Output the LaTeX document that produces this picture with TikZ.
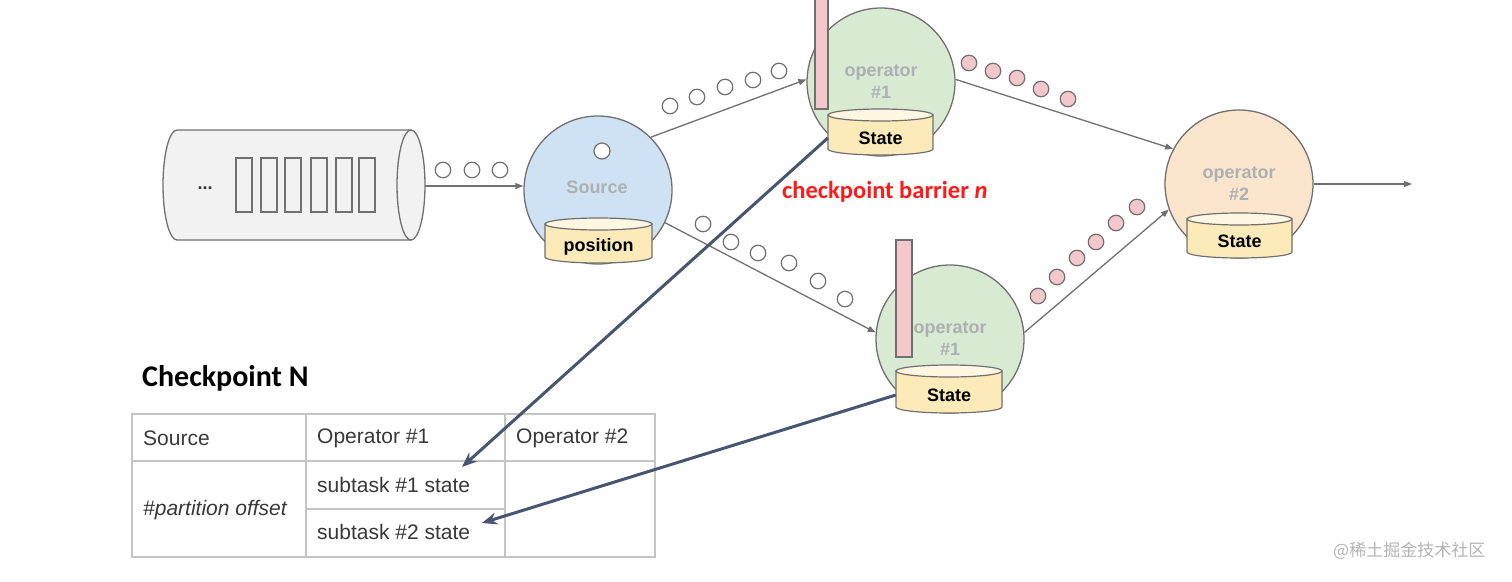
\documentclass[tikz,border=0pt]{standalone}
\usepackage{fontspec}
\setmainfont{Liberation Sans}
\newfontfamily\calib{Carlito}
\newfontfamily\cjk{Noto Sans CJK SC}
\usetikzlibrary{arrows.meta}
\definecolor{linegray}{HTML}{707070}
\definecolor{nodegray}{HTML}{ABB0B3}
\definecolor{srcblue}{HTML}{CFE2F3}
\definecolor{opgreen}{HTML}{D9EAD3}
\definecolor{oporange}{HTML}{FCE5CD}
\definecolor{drumbodyc}{HTML}{FDEAB9}
\definecolor{drumtopc}{HTML}{FFF7E2}
\definecolor{barpink}{HTML}{F4C7CD}
\definecolor{darkblue}{HTML}{475670}
\definecolor{tablegray}{HTML}{C4C4C4}
\definecolor{tabletext}{HTML}{383838}
\definecolor{queuefill}{HTML}{F2F2F2}
\definecolor{redtext}{HTML}{FF1A1A}
\definecolor{wmgray}{HTML}{B4B4B4}
\newcommand\drum[7]{%
  \path[drumbody] (#2-#5,#3) -- (#2-#5,#4) arc[start angle=180,end angle=0,x radius=#5,y radius=#6] -- (#2+#5,#3) -- cycle;
  \path[drumtop] (#2,#3) ellipse[x radius=#5, y radius=#6];
  \node[drumtext, minimum width={2*#5}] (#1) at (#2,{(#3+#4)/2+#6}) {#7};
}
\begin{document}
\begin{tikzpicture}[x=1pt,y=-1pt,
  thinarrow/.style={draw=linegray, line width=1.3pt, -{Triangle[length=8pt,width=6pt]}},
  darrow/.style={draw=darkblue, line width=3pt, -{Stealth[length=15pt,width=12pt]}},
  proc/.style={circle, draw=linegray, line width=1.3pt, minimum size=148pt, inner sep=0pt,
    font=\fontsize{18}{22}\selectfont\bfseries, text=nodegray, align=center},
  dot/.style={circle, draw=linegray, line width=1.2pt, fill=white, minimum size=15.5pt, inner sep=0pt},
  pdot/.style={dot, fill=barpink},
  barrier/.style={draw=linegray, line width=1.2pt, fill=barpink},
  drumbody/.style={draw=linegray, line width=1.2pt, fill=drumbodyc},
  drumtop/.style={draw=linegray, line width=1.2pt, fill=drumtopc},
  drumtext/.style={inner sep=0pt, font=\fontsize{18}{22}\selectfont\bfseries, text=black},
  cellline/.style={draw=tablegray, line width=1.2pt},
  celltext/.style={anchor=west, inner sep=0pt, font=\fontsize{21}{24}\selectfont, text=tabletext},
  qbox/.style={draw=linegray, line width=1.3pt}
]
\useasboundingbox (0,0) rectangle (1512,581);

% queue
\path[draw=linegray, line width=1.3pt, fill=queuefill] (411,130) -- (177,130) arc[start angle=270,end angle=90,x radius=14,y radius=55] -- (411,240) -- cycle;
\path[draw=linegray, line width=1.3pt, fill=queuefill] (411,185) ellipse[x radius=14, y radius=55];
\node[inner sep=0pt, minimum width=262pt, minimum height=110pt] (queue) at (294,186) {};
\node[font=\fontsize{18}{20}\selectfont\bfseries, text=black!80] (qdots) at (205,188) {...};
\foreach \x [count=\i] in {236,261,285,311,336,359}
  \node[qbox, inner sep=0pt, minimum width=16pt, minimum height=54pt] (qr\i) at (\x+8,185) {};

% processes
\node[proc, fill=srcblue] (src) at (598,190) {};
\node[font=\fontsize{18}{22}\selectfont\bfseries, text=nodegray, inner sep=0pt] (srclbl) at (597,187) {Source};
\node[proc, fill=opgreen] (op1a) at (881,82) {operator\\\#1};
\node[proc, fill=opgreen] (op1b) at (950,339) {operator\\\#1};
\node[proc, fill=oporange] (op2) at (1239,184) {operator\\\#2};
\node[dot, minimum size=16pt] (sdot) at (602,151) {};

% barriers
\path[barrier] (815,-5) rectangle (828,109);
\path[barrier] (896,240) rectangle (912,357);

% state drums
\drum{pos}{598.5}{224}{257}{53.5}{6}{position}
\drum{st1}{880.5}{115}{149}{52.5}{6}{State}
\drum{st2}{949}{371}{407}{53}{6}{State}
\drum{st3}{1239.5}{219}{252}{52.5}{6}{State}

% connectors
\coordinate (out) at (1412,184);
\draw[thinarrow] (queue.east) -- (queue.east -| src.west);
\draw[thinarrow] (src.45) -- (op1a.178);
\draw[thinarrow] (src.-26) -- (op1b.175);
\draw[thinarrow] (op1a.2) -- (op2.152);
\draw[thinarrow] (op1b.5) -- (op2.200);
\draw[thinarrow] (op2.east) -- (out);

% records
\foreach \x [count=\i] in {443,472,500} \node[dot] (qd\i) at (\x,170) {};
\foreach \x/\y [count=\i] in {670/106,697/97,725/87,753/80,779/71} \node[dot] (ua\i) at (\x,\y) {};
\foreach \x/\y [count=\i] in {703/224,731/242,758/253,789/263,818/281,845/299} \node[dot] (la\i) at (\x,\y) {};
\foreach \x/\y [count=\i] in {969/63,993/71,1017/78,1041/89,1068/99} \node[pdot] (ub\i) at (\x,\y) {};
\foreach \x/\y [count=\i] in {1038/296,1057/277,1077/258,1096/242,1116/223,1137/207} \node[pdot] (lb\i) at (\x,\y) {};

% labels
\node[anchor=base west, inner sep=0pt, text=redtext, font=\calib\fontsize{24.5}{28}\selectfont\bfseries] (cbn) at (782,198) {checkpoint barrier \textit{n}};
\node[anchor=base west, inner sep=0pt, text=black, font=\calib\fontsize{30}{34}\selectfont\bfseries] (ckn) at (142,386) {Checkpoint N};

% table
\path[cellline] (132,414) rectangle (655,557);
\path[cellline] (132,461) -- (655,461);
\path[cellline] (306,509) -- (505,509);
\path[cellline] (306,414) -- (306,557);
\path[cellline] (505,414) -- (505,557);
\node[celltext] (tsrc) at (143,438) {Source};
\node[celltext] (top1) at (317,438) {Operator \#1};
\node[celltext] (top2) at (516,438) {Operator \#2};
\node[celltext] (tpart) at (143,510) {\itshape\#partition offset};
\node[celltext] (tsub1) at (317,485) {subtask \#1 state};
\node[celltext] (tsub2) at (317,532) {subtask \#2 state};

% snapshot arrows
\coordinate (t1) at (462,467);
\coordinate (t2) at (482,523);
\draw[darrow] (st1.west) -- (t1);
\draw[darrow] (st2.west) -- (t2);

% watermark
\node[anchor=west, inner sep=0pt, text=wmgray, font=\cjk\fontsize{17}{20}\selectfont] (wm) at (1333,551) {@稀土掘金技术社区};
\end{tikzpicture}
\end{document}
